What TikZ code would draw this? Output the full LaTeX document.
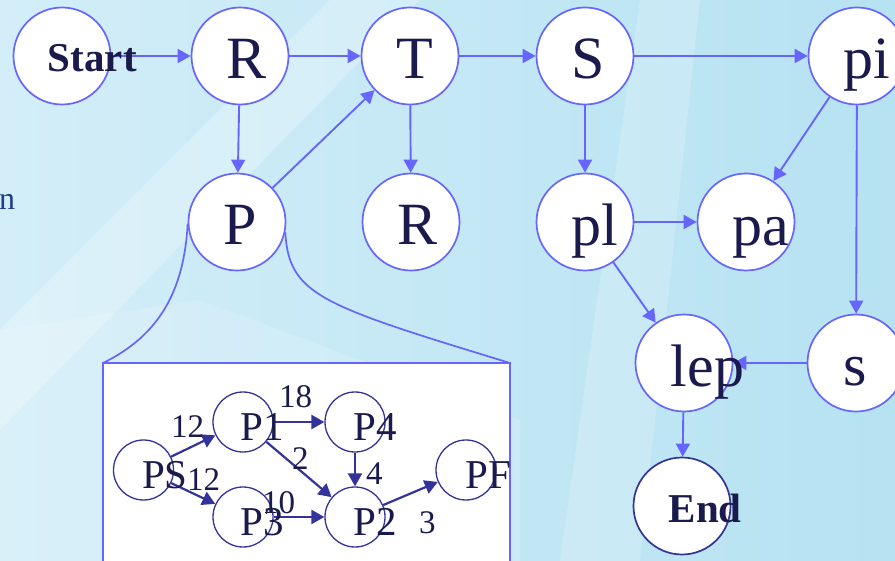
\documentclass[tikz,border=0pt]{standalone}
\usepackage{fontspec}
\setmainfont{Liberation Serif}
\usetikzlibrary{arrows.meta}
\definecolor{edgeblue}{HTML}{6666FF}
\definecolor{inkblue}{HTML}{1A1A4D}
\definecolor{insetblue}{HTML}{333399}
\definecolor{sidetext}{HTML}{1F3D8F}
\definecolor{bgA}{HTML}{D3EEF8}
\definecolor{bgB}{HTML}{B6E2F2}
\begin{document}
\begin{tikzpicture}[x=1pt,y=-1pt,
  bigc/.style={circle,draw=edgeblue,fill=white,line width=1.7pt,minimum size=97pt,inner sep=0pt},
  endc/.style={bigc,draw=insetblue},
  bigtxt/.style={anchor=base west,inner sep=0pt,text=inkblue,font=\fontsize{60}{60}\selectfont},
  boldtxt/.style={anchor=base west,inner sep=0pt,text=inkblue,font=\fontsize{41}{41}\selectfont\bfseries},
  smallc/.style={circle,draw=insetblue,fill=white,line width=1.3pt,minimum size=60pt,inner sep=0pt},
  smalltxt/.style={anchor=base west,inner sep=0pt,text=inkblue,font=\fontsize{41}{41}\selectfont},
  numtxt/.style={anchor=base west,inner sep=0pt,text=inkblue,font=\fontsize{33}{33}\selectfont},
  flow/.style={draw=edgeblue,line width=1.9pt,-{Triangle[length=13pt,width=14pt]}},
  iflow/.style={draw=insetblue,line width=2.2pt,-{Triangle[length=13pt,width=14pt]}},
  callout/.style={draw=edgeblue,line width=1.7pt},
]
\useasboundingbox (0,0) rectangle (895,561);
\clip (0,0) rectangle (895,561);
% background
\shade[left color=bgA,right color=bgB] (0,0) rectangle (895,561);
\fill[white,opacity=0.25] (0,330) -- (330,0) -- (420,0) -- (0,430) -- cycle;
\fill[white,opacity=0.18] (560,561) -- (640,0) -- (700,0) -- (640,561) -- cycle;
\fill[white,opacity=0.15] (0,330) -- (200,300) -- (520,420) -- (520,561) -- (0,561) -- cycle;

\node[anchor=base west,inner sep=0pt,text=sidetext,font=\fontsize{32}{32}\selectfont] (side) at (-1,210) {n};

% main circles
\node[bigc] (Start) at (62,56) {};
\node[bigc] (R) at (240,56) {};
\node[bigc] (T) at (410,56) {};
\node[bigc] (S) at (585,56) {};
\node[bigc] (pi) at (857,56) {};
\node[bigc] (P) at (237,222) {};
\node[bigc] (R2) at (411,222) {};
\node[bigc] (pl) at (585,222) {};
\node[bigc] (pa) at (746,222) {};
\node[bigc] (lep) at (684,363) {};
\node[bigc] (s) at (856,363) {};
\node[endc] (End) at (682,506) {};

% callout
\draw[callout] (P.182) .. controls (184,290) and (160,335) .. (103,363);
\draw[callout] (P.348) .. controls (289,295) and (320,305) .. (510,363);
\draw[callout,fill=white] (103,363) rectangle (510,580);

% main edges
\draw[flow] (Start) -- (R);
\draw[flow] (R) -- (T);
\draw[flow] (T) -- (S);
\draw[flow] (S) -- (pi);
\draw[flow] (R) -- (P);
\draw[flow] (P) -- (T);
\draw[flow] (T) -- (R2);
\draw[flow] (S) -- (pl);
\draw[flow] (pl) -- (pa);
\draw[flow] (pi) -- (pa);
\draw[flow] (pi) -- (s);
\draw[flow] (pl) -- (lep);
\draw[flow] (s) -- (lep);
\draw[flow] (lep) -- (End);

% main labels
\node[boldtxt] (StartT) at ([shift={(35,16)}]Start.west) {Start};
\node[bigtxt] (RT) at ([shift={(36,23)}]R.west) {R};
\node[bigtxt] (TT) at ([shift={(36,23)}]T.west) {T};
\node[bigtxt] (ST) at ([shift={(36,23)}]S.west) {S};
\node[bigtxt] (piT) at ([shift={(36,23)}]pi.west) {pi};
\node[bigtxt] (PT) at ([shift={(36,23)}]P.west) {P};
\node[bigtxt] (R2T) at ([shift={(36,23)}]R2.west) {R};
\node[bigtxt] (plT) at ([shift={(36,24)}]pl.west) {pl};
\node[bigtxt] (paT) at ([shift={(36,24)}]pa.west) {pa};
\node[bigtxt] (lepT) at ([shift={(36,24)}]lep.west) {lep};
\node[bigtxt] (sT) at ([shift={(37,23)}]s.west) {s};
\node[boldtxt] (EndT) at ([shift={(36,16)}]End.west) {End};

% inset graph
\node[smallc] (PS) at (143.5,470) {};
\node[smallc] (P1) at (243,422) {};
\node[smallc] (P4) at (355,422) {};
\node[smallc] (P3) at (243,517) {};
\node[smallc] (P2) at (355,517) {};
\node[smallc] (PF) at (466,470) {};

\draw[iflow] (PS) -- (P1);
\draw[iflow] (PS) -- (P3);
\draw[iflow] (P1) -- (P4);
\draw[iflow] (P1) -- (P2);
\draw[iflow] (P4) -- (P2);
\draw[iflow] (P3) -- (P2);
\draw[iflow] (P2) -- (PF);

\node[smalltxt] (PST) at ([shift={(29,18)}]PS.west) {PS};
\node[smalltxt] (P1T) at ([shift={(28,18)}]P1.west) {P1};
\node[smalltxt] (P4T) at ([shift={(29,18)}]P4.west) {P4};
\node[smalltxt] (P3T) at ([shift={(28,18)}]P3.west) {P3};
\node[smalltxt] (P2T) at ([shift={(29,18)}]P2.west) {P2};
\node[smalltxt] (PFT) at ([shift={(30,18)}]PF.west) {PF};

\node[numtxt] (w1) at (171,438) {12};
\node[numtxt] (w2) at (187,490) {12};
\node[numtxt] (w3) at (279,408) {18};
\node[numtxt] (w4) at (292,470) {2};
\node[numtxt] (w5) at (366,485) {4};
\node[numtxt] (w6) at (262,513) {10};
\node[numtxt] (w7) at (419,533) {3};
\end{tikzpicture}
\end{document}
